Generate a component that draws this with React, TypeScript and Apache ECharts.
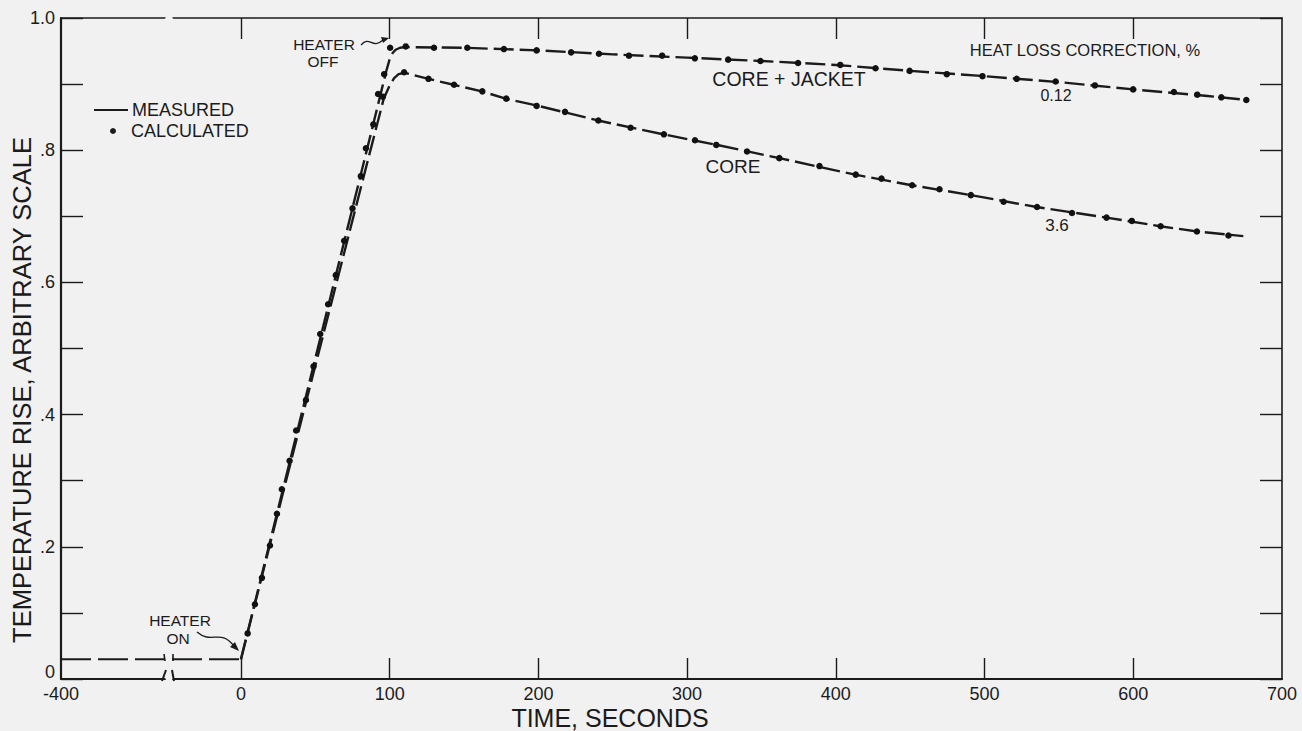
import React, { useEffect, useRef } from "react";
import * as echarts from "echarts";

const BG = "#f1f1f1";
const INK = "#1b1b1b";
const FONT = "'Liberation Sans', Arial, sans-serif";

// ---- axis ticks / labels ----
const xLabelValues = [-400, 0, 100, 200, 300, 400, 500, 600, 700];
const xLabelTexts = ["-400", "0", "100", "200", "300", "400", "500", "600", "700"];
const xTickValues = [0, 100, 200, 300, 400, 500, 600];
const yLabelValues = [0, 0.2, 0.4, 0.6, 0.8, 1.0];
const yLabelTexts = ["0", ".2", ".4", ".6", ".8", "1.0"];
const xBreakStart = -330;
const xBreakEnd = -46;

// ---- measured curves (time s, temperature rise) ----
const preHeatTime = [-400, 0];
const preHeatRise = [0.03, 0.03];

const coreJacketTime = [0, 20, 40, 60, 80, 90, 95, 98, 100, 102, 104, 107, 110, 150, 200, 250, 300, 350, 400, 450, 500, 550, 600, 650, 676];
const coreJacketRise = [0.03, 0.212, 0.394, 0.576, 0.758, 0.849, 0.895, 0.922, 0.938, 0.947, 0.952, 0.955, 0.956, 0.955, 0.951, 0.945, 0.94, 0.935, 0.929, 0.92, 0.912, 0.903, 0.892, 0.882, 0.876];

const coreTime = [0, 20, 40, 60, 80, 96, 100, 103, 106, 110, 126, 143, 162, 178, 200, 240, 284, 320, 362, 413, 451, 491, 535, 582, 618, 643, 674];
const coreRise = [0.03, 0.208, 0.386, 0.562, 0.738, 0.878, 0.898, 0.909, 0.915, 0.917, 0.908, 0.899, 0.889, 0.878, 0.867, 0.845, 0.824, 0.808, 0.788, 0.763, 0.747, 0.732, 0.714, 0.698, 0.685, 0.677, 0.67];

// ---- calculated points ----
const coreJacketCalcTime = [4.5, 14.1, 24.2, 32.7, 43.7, 53.3, 63.8, 75, 84, 92.2, 96.3, 100.3, 110.8, 129.8, 152.2, 176.8, 198.8, 222, 240.7, 260.9, 283.2, 305.2, 327.6, 349.3, 374.6, 403, 426.7, 449.6, 474.6, 498.6, 521.6, 547.8, 574.2, 599.9, 627.3, 643, 659.2, 676];
const coreJacketCalcRise = [0.069, 0.153, 0.25, 0.33, 0.422, 0.522, 0.611, 0.712, 0.803, 0.885, 0.915, 0.955, 0.957, 0.955, 0.955, 0.953, 0.951, 0.948, 0.946, 0.943, 0.943, 0.939, 0.937, 0.935, 0.932, 0.929, 0.924, 0.92, 0.915, 0.912, 0.908, 0.904, 0.898, 0.892, 0.888, 0.884, 0.88, 0.876];

const coreCalcTime = [9.4, 19.5, 27.5, 37.1, 48.8, 58.6, 69.4, 80.6, 89, 95.4, 109.7, 126.1, 143.3, 162.3, 178.4, 198.8, 217.9, 240.3, 262, 284.4, 305.3, 319.6, 340.3, 362, 389, 413.4, 430.7, 451.3, 469.7, 490.8, 512.8, 535.3, 558.8, 582, 599, 618.4, 642.8, 664];
const coreCalcRise = [0.113, 0.202, 0.287, 0.376, 0.473, 0.567, 0.663, 0.761, 0.839, 0.881, 0.918, 0.908, 0.899, 0.889, 0.878, 0.867, 0.858, 0.845, 0.834, 0.824, 0.815, 0.808, 0.798, 0.788, 0.776, 0.763, 0.757, 0.747, 0.741, 0.732, 0.722, 0.714, 0.705, 0.698, 0.693, 0.685, 0.677, 0.671];

const zip = (a: number[], b: number[]) => a.map((v, i) => [v, b[i]]);

const xFormatter = (v: number) => {
  const i = xLabelValues.findIndex((x) => Math.abs(x - v) < 1e-6);
  return i >= 0 ? xLabelTexts[i] : "";
};
const yFormatter = (v: number) => {
  const i = yLabelValues.findIndex((x) => Math.abs(x - v) < 1e-6);
  if (i < 0) return "";
  return i === 0 ? "{z|" + yLabelTexts[i] + "}" : yLabelTexts[i];
};

const txt = (text: string, x: number, y: number, fontSize: number, extra: any = {}) => ({
  type: "text",
  x,
  y,
  z: 200,
  style: {
    text,
    fill: INK,
    fontSize,
    fontFamily: FONT,
    align: "center",
    verticalAlign: "middle",
    ...(extra.style || {}),
  },
  ...(extra.el || {}),
});

const ln = (x1: number, y1: number, x2: number, y2: number, w = 1.6) => ({
  type: "line",
  z: 200,
  shape: { x1, y1, x2, y2 },
  style: { stroke: INK, lineWidth: w },
});

export default function App() {
  const ref = useRef<HTMLDivElement>(null);
  useEffect(() => {
    const chart = echarts.init(ref.current!, null, { renderer: "svg" });
    const breakCfg = {
      breaks: [{ start: xBreakStart, end: xBreakEnd, gap: 5 }],
      breakArea: {
        show: true,
        itemStyle: { color: BG, borderColor: BG, borderWidth: 0, opacity: 1 },
        zigzagAmplitude: 1,
        zigzagZ: 50,
        expandOnClick: false,
      },
    };
    const measuredStyle = { color: INK, width: 2.4, type: [20, 6] as any };
    chart.setOption({
      animation: false,
      backgroundColor: BG,
      grid: { left: 61, right: 20, top: 18, bottom: 52, containLabel: false, outerBoundsMode: "none" },
      xAxis: [
        {
          type: "value",
          min: -400,
          max: 700,
          position: "bottom",
          ...breakCfg,
          axisLine: { show: true, lineStyle: { color: INK, width: 2.2 } },
          axisTick: { show: true, inside: true, length: 21, customValues: xTickValues, lineStyle: { color: INK, width: 1.4 } },
          axisLabel: { show: true, customValues: xLabelValues, formatter: xFormatter, color: INK, fontSize: 18, fontFamily: FONT, margin: 6 },
          splitLine: { show: false },
        },
        {
          type: "value",
          min: -400,
          max: 700,
          position: "top",
          ...breakCfg,
          axisLine: { show: true, onZero: false, lineStyle: { color: INK, width: 1.6 } },
          axisTick: { show: true, inside: true, length: 21, customValues: xTickValues, lineStyle: { color: INK, width: 1.4 } },
          axisLabel: { show: false },
          splitLine: { show: false },
        },
      ],
      yAxis: [
        {
          type: "value",
          min: 0,
          max: 1,
          interval: 0.1,
          position: "left",
          axisLine: { show: true, onZero: false, lineStyle: { color: INK, width: 2.2 } },
          axisTick: { show: true, inside: true, length: 22, lineStyle: { color: INK, width: 1.4 } },
          axisLabel: {
            show: true,
            formatter: yFormatter,
            color: INK,
            fontSize: 18,
            fontFamily: FONT,
            margin: 6,
            rich: { z: { fontSize: 18, fontFamily: FONT, color: INK, padding: [0, 0, 14, 0] } },
          },
          splitLine: { show: false },
        },
        {
          type: "value",
          min: 0,
          max: 1,
          interval: 0.1,
          position: "right",
          axisLine: { show: true, onZero: false, lineStyle: { color: INK, width: 1.6 } },
          axisTick: { show: true, inside: true, length: 22, lineStyle: { color: INK, width: 1.4 } },
          axisLabel: { show: false },
          splitLine: { show: false },
        },
      ],
      series: [
        { name: "MEASURED", type: "line", data: zip(preHeatTime, preHeatRise), symbol: "none", lineStyle: { color: INK, width: 2, type: [30, 7] as any }, z: 3 },
        { name: "MEASURED", type: "line", data: zip(coreJacketTime, coreJacketRise), symbol: "none", lineStyle: measuredStyle, z: 3 },
        { name: "MEASURED", type: "line", data: zip(coreTime, coreRise), symbol: "none", lineStyle: measuredStyle, z: 3 },
        { name: "CALCULATED", type: "scatter", data: zip(coreJacketCalcTime, coreJacketCalcRise), symbol: "circle", symbolSize: 6.5, itemStyle: { color: "#111", opacity: 1 }, z: 4 },
        { name: "CALCULATED", type: "scatter", data: zip(coreCalcTime, coreCalcRise), symbol: "circle", symbolSize: 6.5, itemStyle: { color: "#111", opacity: 1 }, z: 4 },
      ],
      graphic: [
        // axis titles
        txt("TIME, SECONDS", 610, 718, 25),
        txt("TEMPERATURE RISE, ARBITRARY SCALE", 22, 390, 25.5, { el: { rotation: Math.PI / 2 } }),
        // legend
        ln(94, 110, 128, 110, 1.8),
        { type: "circle", z: 200, shape: { cx: 113, cy: 131, r: 3 }, style: { fill: INK } },
        txt("MEASURED", 132, 110, 18, { style: { align: "left" } }),
        txt("CALCULATED", 131, 131, 18, { style: { align: "left" } }),
        // curve labels
        txt("CORE + JACKET", 789, 79, 19.5),
        txt("CORE", 733, 166, 19),
        txt("HEAT LOSS CORRECTION, %", 1085, 50, 16.5),
        txt("0.12", 1056, 95, 16),
        txt("3.6", 1057, 225, 17),
        // heater annotations
        txt("HEATER", 324, 44, 15.5),
        txt("OFF", 323, 61, 15.5),
        txt("HEATER", 180, 620, 15.5),
        txt("ON", 178, 638, 15.5),
        {
          type: "bezierCurve",
          z: 200,
          shape: { x1: 361, y1: 45, cpx1: 370, cpy1: 35, cpx2: 372, cpy2: 50, x2: 383, y2: 40 },
          style: { stroke: INK, lineWidth: 1.3, fill: "none" },
        },
        { type: "polygon", z: 200, shape: { points: [[389, 38], [381, 37], [383, 43]] }, style: { fill: INK } },
        {
          type: "bezierCurve",
          z: 200,
          shape: { x1: 197, y1: 632, cpx1: 212, cpy1: 645, cpx2: 220, cpy2: 628, x2: 234, y2: 646 },
          style: { stroke: INK, lineWidth: 1.3, fill: "none" },
        },
        { type: "polygon", z: 200, shape: { points: [[239, 651], [230, 647], [235, 642]] }, style: { fill: INK } },
        // break marks
        ln(162, 681, 166, 670, 2),
        ln(172, 670, 174, 681, 2),
        ln(164, 654, 165, 661, 1.6),
        ln(173, 654, 173, 661, 1.6),
      ],
    });
    return () => chart.dispose();
  }, []);
  return (
    <div
      ref={ref}
      style={{ position: "fixed", left: 0, top: 0, width: 1302, height: 731, background: BG }}
    />
  );
}
